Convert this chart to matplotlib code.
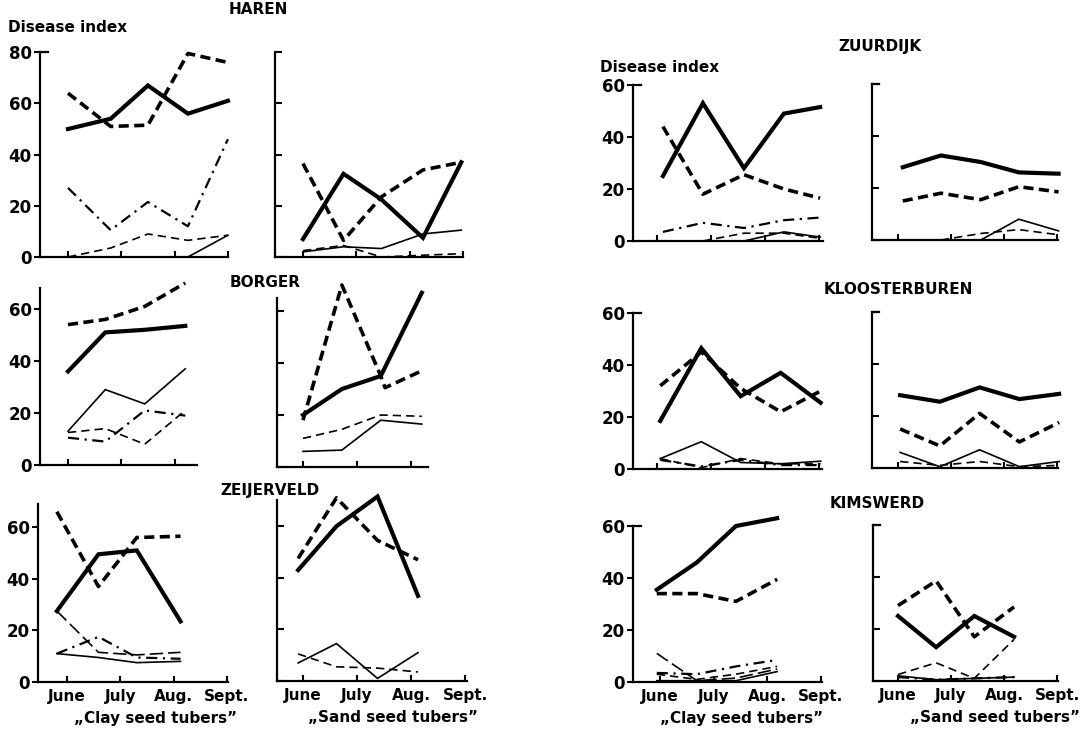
import matplotlib
matplotlib.use("Agg")
import matplotlib.pyplot as plt

W, H = 1087, 730

# month axis: June=0, July=1, Aug=2, Sept=3
months = ["June", "July", "Aug.", "Sept."]

# ---- HAREN ----
haren_clay_x = [0, 0.8, 1.5, 2.25, 3.0]
haren_clay_thick = [50, 54, 67, 56, 61]
haren_clay_thickdash = [64, 51, 51.5, 79.5, 76]
haren_clay_dashdot = [27, 10.5, 21.5, 12, 46]
haren_clay_thindash = [0, 3.5, 9, 6.5, 8.5]
haren_clay_thin = [0, 0, 0, 0, 8.5]

haren_sand_x = [0, 0.76, 1.47, 2.25, 2.97]
haren_sand_thick = [7, 32.5, 22.5, 7.5, 37]
haren_sand_thickdash = [36.5, 6.5, 23.5, 34, 37]
haren_sand_thin = [2, 4, 3.3, 9, 10.5]
haren_sand_thindash = [2.5, 4.5, 0, 0.7, 1.3]

# ---- BORGER ----
borger_clay_x = [0, 0.7, 1.44, 2.2]
borger_clay_thick = [36, 51, 52, 53.5]
borger_clay_thickdash = [54, 56, 61, 70]
borger_clay_thin = [13, 29, 23.5, 37]
borger_clay_thindash = [12.5, 14, 8, 21]
borger_clay_dashdot = [10.5, 9, 21, 19]

borger_sand_x = [0, 0.72, 1.44, 2.2]
borger_sand_thick = [20, 30, 35, 67]
borger_sand_dash_x = [0, 0.72, 1.44, 1.52, 2.2]
borger_sand_thickdash = [18, 70, 35, 30.5, 37]
borger_sand_thindash = [11, 14.5, 20, 19.5]
borger_sand_thin = [6, 6.5, 18, 16.5]

# ---- ZEIJERVELD ----
zeij_clay_x = [-0.19, 0.59, 1.31, 2.13]
zeij_clay_thick = [27.5, 49.5, 51, 23.5]
zeij_clay_thickdash = [66, 37, 56, 56.5]
zeij_clay_thindash = [27.5, 11.5, 10.5, 11.5]
zeij_clay_dashdot = [11, 17.5, 9.5, 9]
zeij_clay_thin = [11, 9.5, 7.5, 8]

zeij_sand_x = [-0.09, 0.62, 1.38, 2.13]
zeij_sand_thick = [43, 60, 71.5, 33]
zeij_sand_thickdash = [47.5, 71, 54.5, 47]
zeij_sand_thin = [7, 14.5, 1, 11]
zeij_sand_thindash = [10.5, 5.5, 5, 3.5]

# ---- ZUURDIJK ----
zuur_clay_x = [0.11, 0.85, 1.61, 2.35, 3.02]
zuur_clay_thick = [25, 53, 28, 49, 51.5]
zuur_clay_thickdash = [44, 18, 25.5, 20, 16.5]
zuur_clay_dashdot = [3.5, 7, 5, 8, 9]
zuur_clay_thindash_x = [0.85, 1.61, 2.35, 3.02]
zuur_clay_thindash = [0, 3, 3, 1]
zuur_clay_thin_x = [1.61, 2.35, 3.02]
zuur_clay_thin = [0, 3.5, 1.5]

zuur_sand_x = [0.09, 0.81, 1.56, 2.28, 3.03]
zuur_sand_thick = [28, 32.5, 30, 26, 25.5]
zuur_sand_thickdash = [15, 18, 15.5, 20.5, 18.5]
zuur_sand_thin_x = [1.56, 2.28, 3.03]
zuur_sand_thin = [0, 8, 3.5]
zuur_sand_thindash_x = [0.81, 1.56, 2.28, 3.03]
zuur_sand_thindash = [0, 2.5, 4, 2]

# ---- KLOOSTERBUREN ----
kloo_clay_x = [0.06, 0.82, 1.55, 2.29, 3.03]
kloo_clay_thick = [18.5, 46.5, 28, 37, 25.5]
kloo_clay_thickdash = [32, 45, 31, 22, 30]
kloo_clay_thin = [4, 10.5, 2.5, 2, 3]
kloo_clay_thindash = [4, 0.5, 4, 2, 2]
kloo_clay_dashdot = [3.5, 1, 3.5, 1.5, 1.5]

kloo_sand_x = [0.04, 0.79, 1.54, 2.29, 3.04]
kloo_sand_thick = [28, 25.5, 31, 26.5, 28.5]
kloo_sand_thickdash = [15, 8.5, 21, 10, 17.5]
kloo_sand_thin = [6, 0.5, 7, 0.5, 2.5]
kloo_sand_thindash = [2.5, 1, 2.5, 0.5, 1]

# ---- KIMSWERD ----
kims_clay_x = [-0.06, 0.69, 1.42, 2.19]
kims_clay_thick = [35.5, 46, 60, 63]
kims_clay_thickdash = [34, 34, 31, 39.5]
kims_clay_longdash = [11, 0.5, 1.5, 5]
kims_clay_dashdot = [3.5, 3, 6, 8.5]
kims_clay_thindash = [3, 1, 3, 6]
kims_clay_thin = [0.5, 0.5, 0.5, 4]

kims_sand_x = [0, 0.72, 1.44, 2.19]
kims_sand_thick = [25, 13, 25, 17]
kims_sand_thickdash = [29, 38.5, 17, 28.5]
kims_sand_thindash = [2.5, 7, 1, 16]
kims_sand_thin = [2, 0.5, 1, 1.5]
kims_sand_dashdot = [1.5, 0.5, 1, 1.5]

STY = {
    "thick": dict(lw=3.0, ls="-"),
    "thickdash": dict(lw=2.6, ls=(0, (2.8, 1.5))),
    "dashdot": dict(lw=1.6, ls=(0, (5, 2.5, 1, 2.5))),
    "thin": dict(lw=1.2, ls="-"),
    "thindash": dict(lw=1.2, ls=(0, (5, 3))),
    "longdash": dict(lw=1.2, ls=(0, (8, 3))),
}

FONT = "DejaVu Sans"

fig = plt.figure(figsize=(W / 100, H / 100), dpi=100)


def panel(x0, xj, pm, xr, yb, pu, vt, series, ylab=False, xlab=False, top_bracket=False):
    # axes placed in pixel coordinates of the reference
    left = x0 / W
    width = (xr - x0) / W
    bottom = 1 - yb / H
    height = vt * pu / H
    ax = fig.add_axes([left, bottom, width, height])
    ax.set_xlim((x0 - xj) / pm, (xr - xj) / pm)
    ax.set_ylim(0, vt)
    for style, xs, ys in series:
        ax.plot(xs, ys, color="black", clip_on=False, solid_joinstyle="miter",
                dash_capstyle="butt", **STY[style])
    for s in ["top", "right"]:
        ax.spines[s].set_visible(False)
    for s in ["left", "bottom"]:
        ax.spines[s].set_linewidth(1.6)
    xt = [m for m in range(4) if m <= ax.get_xlim()[1] + 1e-6]
    ax.set_xticks(xt)
    ax.tick_params(axis="x", direction="in", length=4, width=1.5)
    if xlab:
        ax.set_xticklabels([months[m] for m in xt], fontsize=11,
                           fontweight="bold", family=FONT)
        ax.tick_params(axis="x", pad=5)
    else:
        ax.set_xticklabels([])
    yt = list(range(0, int(vt) + 1, 20))
    ax.set_yticks(yt)
    if ylab:
        ax.tick_params(axis="y", direction="out", length=4, width=1.5, pad=2)
        ax.set_yticklabels([str(v) for v in yt], fontsize=12,
                           fontweight="bold", family=FONT)
    else:
        ax.tick_params(axis="y", direction="in", length=5, width=1.5)
        ax.set_yticklabels([])
    if top_bracket:
        ax.plot([0, 0.04], [1, 1], transform=ax.transAxes, color="black",
                lw=1.6, clip_on=False)
    ax.patch.set_alpha(0)
    return ax


# left group
panel(40, 68, 53.3, 228, 257, 2.56, 80, [
    ("thick", haren_clay_x, haren_clay_thick),
    ("thickdash", haren_clay_x, haren_clay_thickdash),
    ("dashdot", haren_clay_x, haren_clay_dashdot),
    ("thindash", haren_clay_x, haren_clay_thindash),
    ("thin", haren_clay_x, haren_clay_thin),
], ylab=True, top_bracket=True)
panel(275, 303, 53.3, 463, 257, 2.56, 80, [
    ("thick", haren_sand_x, haren_sand_thick),
    ("thickdash", haren_sand_x, haren_sand_thickdash),
    ("thin", haren_sand_x, haren_sand_thin),
    ("thindash", haren_sand_x, haren_sand_thindash),
])
panel(40, 68, 53.3, 197, 465, 2.6, 68, [
    ("thick", borger_clay_x, borger_clay_thick),
    ("thickdash", borger_clay_x, borger_clay_thickdash),
    ("thin", borger_clay_x, borger_clay_thin),
    ("thindash", borger_clay_x, borger_clay_thindash),
    ("dashdot", borger_clay_x, borger_clay_dashdot),
], ylab=True)
panel(277, 303, 54, 428, 467, 2.6, 65, [
    ("thick", borger_sand_x, borger_sand_thick),
    ("thickdash", borger_sand_dash_x, borger_sand_thickdash),
    ("thindash", borger_sand_x, borger_sand_thindash),
    ("thin", borger_sand_x, borger_sand_thin),
])
panel(38, 67, 53.3, 228, 682, 2.58, 69, [
    ("thick", zeij_clay_x, zeij_clay_thick),
    ("thickdash", zeij_clay_x, zeij_clay_thickdash),
    ("longdash", zeij_clay_x, zeij_clay_thindash),
    ("dashdot", zeij_clay_x, zeij_clay_dashdot),
    ("thin", zeij_clay_x, zeij_clay_thin),
], ylab=True, xlab=True)
panel(277, 303, 54, 467, 681, 2.58, 70, [
    ("thick", zeij_sand_x, zeij_sand_thick),
    ("thickdash", zeij_sand_x, zeij_sand_thickdash),
    ("thin", zeij_sand_x, zeij_sand_thin),
    ("thindash", zeij_sand_x, zeij_sand_thindash),
], xlab=True)

# right group
panel(633, 657, 54, 823, 241, 2.6, 60, [
    ("thick", zuur_clay_x, zuur_clay_thick),
    ("thickdash", zuur_clay_x, zuur_clay_thickdash),
    ("dashdot", zuur_clay_x, zuur_clay_dashdot),
    ("thindash", zuur_clay_thindash_x, zuur_clay_thindash),
    ("thin", zuur_clay_thin_x, zuur_clay_thin),
], ylab=True, top_bracket=True)
panel(872, 898, 53, 1058, 240, 2.6, 60, [
    ("thick", zuur_sand_x, zuur_sand_thick),
    ("thickdash", zuur_sand_x, zuur_sand_thickdash),
    ("thin", zuur_sand_thin_x, zuur_sand_thin),
    ("thindash", zuur_sand_thindash_x, zuur_sand_thindash),
], top_bracket=True)
panel(633, 657, 54, 822, 469, 2.6, 60, [
    ("thick", kloo_clay_x, kloo_clay_thick),
    ("thickdash", kloo_clay_x, kloo_clay_thickdash),
    ("thin", kloo_clay_x, kloo_clay_thin),
    ("thindash", kloo_clay_x, kloo_clay_thindash),
    ("dashdot", kloo_clay_x, kloo_clay_dashdot),
], ylab=True, top_bracket=True)
panel(872, 898, 53, 1058, 468, 2.6, 60, [
    ("thick", kloo_sand_x, kloo_sand_thick),
    ("thickdash", kloo_sand_x, kloo_sand_thickdash),
    ("thin", kloo_sand_x, kloo_sand_thin),
    ("thindash", kloo_sand_x, kloo_sand_thindash),
], top_bracket=True)
panel(633, 660, 53.5, 822, 682, 2.6, 60, [
    ("thick", kims_clay_x, kims_clay_thick),
    ("thickdash", kims_clay_x, kims_clay_thickdash),
    ("longdash", kims_clay_x, kims_clay_longdash),
    ("dashdot", kims_clay_x, kims_clay_dashdot),
    ("thindash", kims_clay_x, kims_clay_thindash),
    ("thin", kims_clay_x, kims_clay_thin),
], ylab=True, xlab=True, top_bracket=True)
panel(873, 898, 53, 1058, 681, 2.6, 60, [
    ("thick", kims_sand_x, kims_sand_thick),
    ("thickdash", kims_sand_x, kims_sand_thickdash),
    ("thindash", kims_sand_x, kims_sand_thindash),
    ("thin", kims_sand_x, kims_sand_thin),
    ("dashdot", kims_sand_x, kims_sand_dashdot),
], xlab=True, top_bracket=True)


def ftext(x, y, s, size=11, ha="center"):
    fig.text(x / W, 1 - y / H, s, ha=ha, va="center", fontsize=size,
             fontweight="bold", family=FONT)


ftext(8, 28, "Disease index", ha="left")
ftext(600, 67, "Disease index", ha="left")
ftext(258, 10, "HAREN")
ftext(265, 282, "BORGER")
ftext(270, 490, "ZEIJERVELD")
ftext(880, 47, "ZUURDIJK")
ftext(898, 289, "KLOOSTERBUREN")
ftext(877, 503, "KIMSWERD")
ftext(156, 718, "\u201eClay seed tubers\u201d")
ftext(393, 718, "\u201eSand seed tubers\u201d")
ftext(742, 718, "\u201eClay seed tubers\u201d")
ftext(995, 718, "\u201eSand seed tubers\u201d")

fig.savefig("out.png", dpi=100)
